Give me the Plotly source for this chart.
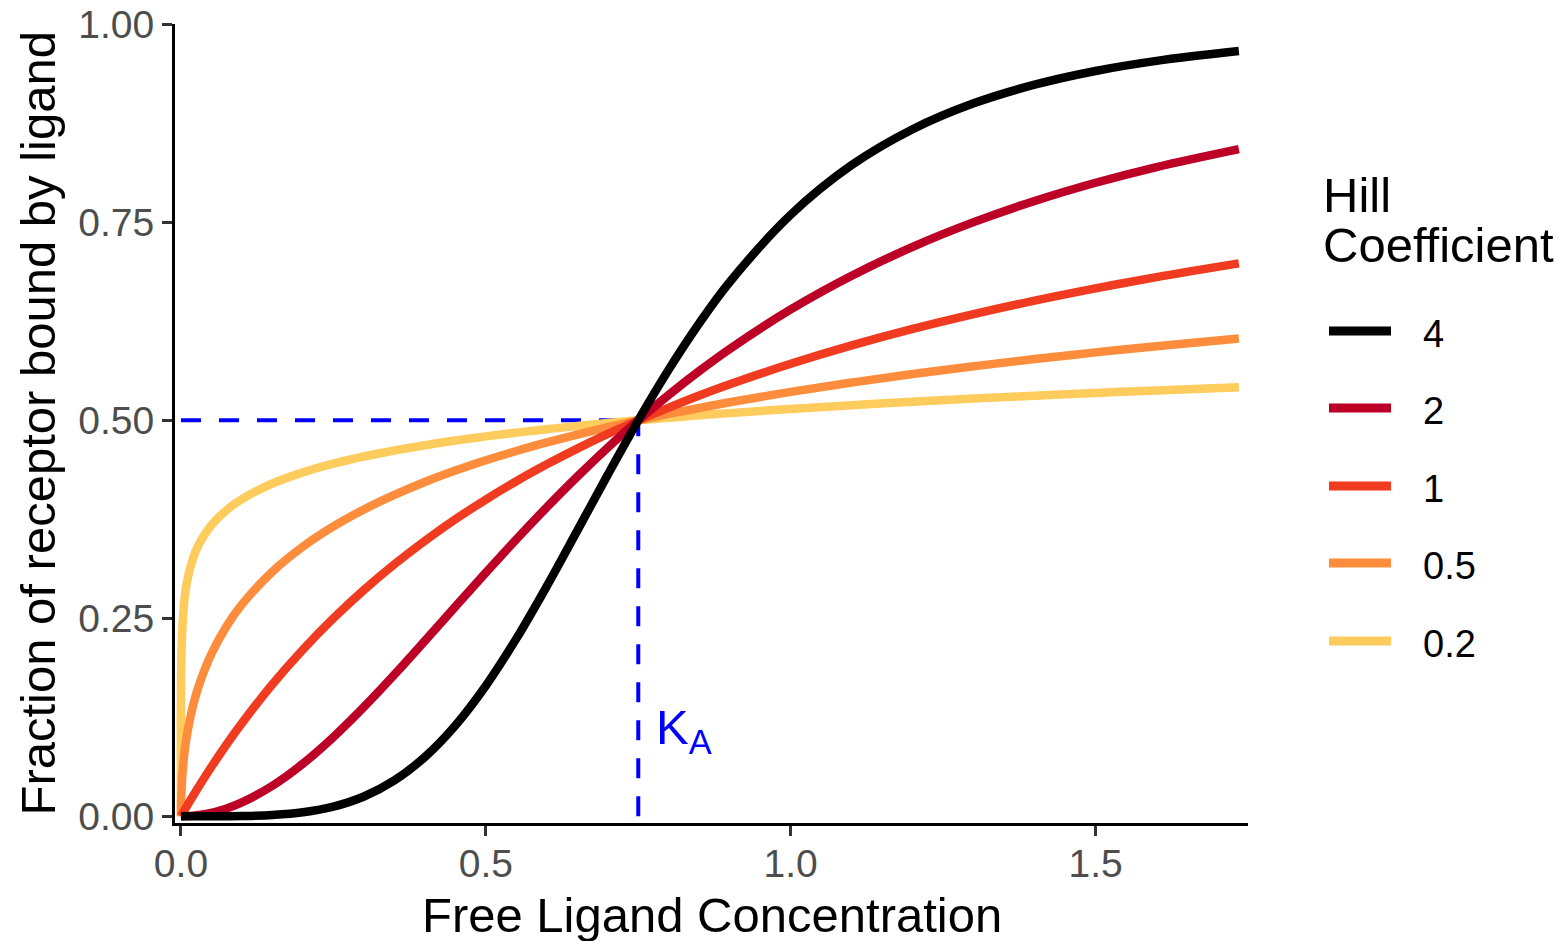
import plotly.graph_objects as go

# ---- data (Hill binding curves, KA = 0.75) ----
ligand = [0, 0.001, 0.005, 0.01, 0.02, 0.03, 0.05, 0.075, 0.1, 0.15, 0.2, 0.25, 0.3,
          0.35, 0.4, 0.45, 0.5, 0.55, 0.6, 0.65, 0.7, 0.75, 0.8, 0.85, 0.9, 1.0,
          1.1, 1.2, 1.3, 1.4, 1.5, 1.6, 1.735]

hill_4 = [0, 0, 0, 0, 0, 0, 0.00002, 0.0001, 0.0003, 0.0016, 0.0050, 0.0122, 0.0250,
          0.0453, 0.0749, 0.1147, 0.1649, 0.2243, 0.2906, 0.3607, 0.4314, 0.5, 0.5642,
          0.6226, 0.6747, 0.7596, 0.8223, 0.8676, 0.9003, 0.9239, 0.9412, 0.9539, 0.9663]
hill_2 = [0, 0.000002, 0.00004, 0.0002, 0.0007, 0.0016, 0.0044, 0.0099, 0.0175, 0.0385,
          0.0664, 0.1, 0.1379, 0.1788, 0.2215, 0.2647, 0.3077, 0.3497, 0.3902, 0.4289,
          0.4656, 0.5, 0.5322, 0.5623, 0.5902, 0.64, 0.6826, 0.7191, 0.7503, 0.7770,
          0.8, 0.8199, 0.8426]
hill_1 = [0, 0.0013, 0.0066, 0.0132, 0.0260, 0.0385, 0.0625, 0.0909, 0.1176, 0.1667,
          0.2105, 0.25, 0.2857, 0.3182, 0.3478, 0.375, 0.4, 0.4231, 0.4444, 0.4643,
          0.4828, 0.5, 0.5161, 0.5313, 0.5455, 0.5714, 0.5946, 0.6154, 0.6341, 0.6512,
          0.6667, 0.6809, 0.6982]
hill_05 = [0, 0.0352, 0.0755, 0.1035, 0.1404, 0.1667, 0.2052, 0.2403, 0.2675, 0.3090,
           0.3405, 0.3660, 0.3874, 0.4058, 0.4221, 0.4365, 0.4495, 0.4613, 0.4721, 0.4821,
           0.4914, 0.5, 0.5081, 0.5156, 0.5228, 0.5359, 0.5477, 0.5585, 0.5683, 0.5774,
           0.5858, 0.5936, 0.6033]
hill_02 = [0, 0.2102, 0.2685, 0.2966, 0.3263, 0.3444, 0.3678, 0.3869, 0.4006, 0.4202,
           0.4343, 0.4453, 0.4543, 0.4619, 0.4686, 0.4745, 0.4797, 0.4845, 0.4888, 0.4928,
           0.4966, 0.5, 0.5032, 0.5063, 0.5091, 0.5144, 0.5191, 0.5235, 0.5275, 0.5312,
           0.5346, 0.5378, 0.5418]

legend_labels = ["4", "2", "1", "0.5", "0.2"]
series_values = [hill_4, hill_2, hill_1, hill_05, hill_02]
colors = ["#000000", "#BD0026", "#F03B20", "#FD8D3C", "#FECC5C"]

KA = 0.75
half_bound = 0.5

x_ticks = [0, 0.5, 1.0, 1.5]
y_ticks = [0, 0.25, 0.5, 0.75, 1.0]

FONT = "Liberation Sans, Arial, Helvetica, sans-serif"

fig = go.Figure()

# dashed KA guide lines (drawn beneath the curves)
fig.add_trace(go.Scatter(x=[0, KA], y=[half_bound, half_bound], mode="lines",
                         line=dict(color="#0000FF", width=4, dash="20px,18px"),
                         showlegend=False, hoverinfo="skip"))
fig.add_trace(go.Scatter(x=[KA, KA], y=[0, half_bound], mode="lines",
                         line=dict(color="#0000FF", width=4, dash="20px,18px"),
                         showlegend=False, hoverinfo="skip"))

# curves: lowest coefficient drawn first, black on top
for lab, vals, col in reversed(list(zip(legend_labels, series_values, colors))):
    fig.add_trace(go.Scatter(x=ligand, y=vals, mode="lines", name=lab,
                             line=dict(color=col, width=8.5, shape="spline"),
                             showlegend=False))

# plot area in window pixels: left 175, right 1248, top 24, bottom 823
W, H = 1564, 941
L, R, T, B = 175, 1248, 24, 823

def px_x(px):
    return (px - L) / (R - L)

def px_y(py):
    return (B - py) / (B - T)

annotations = []
shapes = []

# KA label
annotations.append(dict(x=0.776, y=0.108, xref="x", yref="y", text="K<sub>A</sub>",
                        showarrow=False, xanchor="left", yanchor="middle",
                        font=dict(family=FONT, size=49, color="#0000FF")))

# axis titles
annotations.append(dict(x=0.5, y=px_y(915), xref="paper", yref="paper",
                        text="Free Ligand Concentration", showarrow=False,
                        xanchor="center", yanchor="middle",
                        font=dict(family=FONT, size=49, color="#000000")))
annotations.append(dict(x=px_x(37), y=0.5, xref="paper", yref="paper",
                        text="Fraction of receptor bound by ligand", showarrow=False,
                        textangle=-90, xanchor="center", yanchor="middle",
                        font=dict(family=FONT, size=49, color="#000000")))

# legend (drawn manually to match the long key lines)
annotations.append(dict(x=px_x(1321), y=px_y(195), xref="paper", yref="paper",
                        text="Hill", showarrow=False, xanchor="left", yanchor="middle",
                        font=dict(family=FONT, size=49, color="#000000")))
annotations.append(dict(x=px_x(1321), y=px_y(245), xref="paper", yref="paper",
                        text="Coefficient", showarrow=False, xanchor="left", yanchor="middle",
                        font=dict(family=FONT, size=49, color="#000000")))
key_y = [331, 408, 486, 563, 641]
for lab, col, ky in zip(legend_labels, colors, key_y):
    shapes.append(dict(type="line", xref="paper", yref="paper",
                       x0=px_x(1329), x1=px_x(1391), y0=px_y(ky), y1=px_y(ky),
                       line=dict(color=col, width=9)))
    annotations.append(dict(x=px_x(1421), y=px_y(ky + 3), xref="paper", yref="paper",
                            text=lab, showarrow=False, xanchor="left", yanchor="middle",
                            font=dict(family=FONT, size=38, color="#000000")))

axis_common = dict(showgrid=False, zeroline=False, showline=True, linecolor="#000000",
                   linewidth=3, ticks="outside", ticklen=10, tickwidth=3,
                   tickcolor="#333333", ticklabeloverflow="allow", automargin=False,
                   tickfont=dict(family=FONT, size=39, color="#4D4D4D"))

fig.update_layout(
    width=W, height=H,
    margin=dict(l=L, r=W - R, t=T, b=H - B, autoexpand=False),
    paper_bgcolor="white", plot_bgcolor="white",
    showlegend=False,
    xaxis=dict(range=[-0.0098, 1.75], tickvals=x_ticks, tickformat=".1f",
               ticklabelstandoff=-6, **axis_common),
    yaxis=dict(range=[-0.0085, 1.0005], tickvals=y_ticks, tickformat=".2f",
               **axis_common),
    annotations=annotations,
    shapes=shapes,
)

fig.write_html("out.html", config={"displayModeBar": False},
               post_script="document.body.style.margin='0';document.body.style.overflow='hidden';")
